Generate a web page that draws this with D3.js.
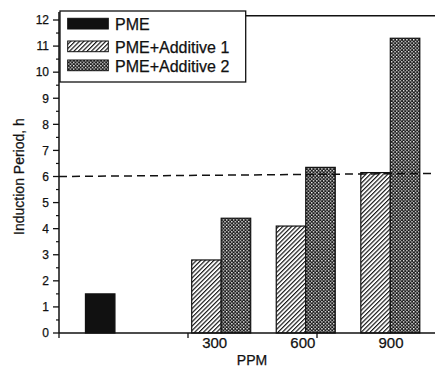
<!DOCTYPE html>
<html>
<head>
<meta charset="utf-8">
<script src="https://cdn.jsdelivr.net/npm/d3@7"></script>
<style>
  html, body { margin: 0; padding: 0; background: #fff; }
  svg { display: block; font-family: "Liberation Sans", Arial, sans-serif; }
  svg text { stroke: #111; stroke-width: 0.25px; }
</style>
</head>
<body>
<svg id="chart" width="435" height="369"></svg>
<script>
// ---- data ----
const seriesNames = ["PME", "PME+Additive 1", "PME+Additive 2"];
const pmeValue = [1.5];
const ppmCategories = [300, 600, 900];
const additive1Values = [2.8, 4.1, 6.15];
const additive2Values = [4.4, 6.35, 11.3];
const yTickValues = [0,1,2,3,4,5,6,7,8,9,10,11,12];
const thresholdLine = [6.0, 6.12]; // left end, right end (as read)

// ---- layout ----
const svg = d3.select("#chart");
const W = 435, H = 369;
const axisX = 59, axisY = 333;

const y = d3.scaleLinear().domain([0, 12]).range([axisY, 20]);
const xGroup = d3.scaleLinear().domain([300, 900]).range([221.2, 390.3]);
const xLabel = d3.scaleLinear().domain([300, 900]).range([214.7, 391]);
const xTicks = d3.scaleLinear().domain([0, 3]).range([axisX, 446]);
const barW = 29.5;
const pmeCenter = xGroup(300) - 121;

// ---- patterns ----
const defs = svg.append("defs");
const hatch = defs.append("pattern")
  .attr("id", "hatch").attr("patternUnits", "userSpaceOnUse")
  .attr("width", 3.1).attr("height", 3.1)
  .attr("patternTransform", "rotate(45)");
hatch.append("rect").attr("width", 3.1).attr("height", 3.1).attr("fill", "#fff");
hatch.append("line").attr("x1", 0.6).attr("y1", 0).attr("x2", 0.6).attr("y2", 3.1)
  .attr("stroke", "#111").attr("stroke-width", 1.15);

const dots = defs.append("pattern")
  .attr("id", "dots").attr("patternUnits", "userSpaceOnUse")
  .attr("width", 3.4).attr("height", 3.4);
dots.append("rect").attr("width", 3.4).attr("height", 3.4).attr("fill", "#1a1a1a");
dots.append("rect").attr("x", 0).attr("y", 0).attr("width", 1.3).attr("height", 1.3).attr("fill", "#fff");
dots.append("rect").attr("x", 1.7).attr("y", 1.7).attr("width", 1.3).attr("height", 1.3).attr("fill", "#fff");

const fills = ["#111", "url(#hatch)", "url(#dots)"];

// ---- top frame line ----
svg.append("line").attr("x1", 245).attr("x2", W).attr("y1", 15.7).attr("y2", 15.7)
  .attr("stroke", "#111").attr("stroke-width", 1.5);

// ---- bars ----
const g = svg.append("g");
g.selectAll(".pme").data(pmeValue).join("rect")
  .attr("x", pmeCenter - barW / 2).attr("width", barW)
  .attr("y", d => y(d)).attr("height", d => y(0) - y(d))
  .attr("fill", fills[0]).attr("stroke", "#111").attr("stroke-width", 1.2);

g.selectAll(".a1").data(additive1Values).join("rect")
  .attr("x", (d, i) => xGroup(ppmCategories[i]) - barW).attr("width", barW)
  .attr("y", d => y(d)).attr("height", d => y(0) - y(d))
  .attr("fill", fills[1]).attr("stroke", "#111").attr("stroke-width", 1.2);

g.selectAll(".a2").data(additive2Values).join("rect")
  .attr("x", (d, i) => xGroup(ppmCategories[i])).attr("width", barW)
  .attr("y", d => y(d)).attr("height", d => y(0) - y(d))
  .attr("fill", fills[2]).attr("stroke", "#111").attr("stroke-width", 1.2);

// ---- dashed threshold ----
svg.append("line")
  .attr("x1", axisX).attr("x2", W)
  .attr("y1", y(thresholdLine[0])).attr("y2", y(thresholdLine[1]))
  .attr("stroke", "#111").attr("stroke-width", 1.5)
  .attr("stroke-dasharray", "8,5");

// ---- y axis ----
const yAxis = svg.append("g").attr("transform", `translate(${axisX},0)`);
yAxis.append("line").attr("x1", 0).attr("x2", 0).attr("y1", axisY).attr("y2", 12)
  .attr("stroke", "#111").attr("stroke-width", 1.5);
const minor = d3.range(0.5, 12, 1);
yAxis.selectAll(".minor").data(minor).join("line")
  .attr("x1", -3).attr("x2", 0).attr("y1", d => y(d)).attr("y2", d => y(d))
  .attr("stroke", "#111").attr("stroke-width", 1.2);
yAxis.selectAll(".major").data(yTickValues).join("line")
  .attr("x1", -6).attr("x2", 0).attr("y1", d => y(d)).attr("y2", d => y(d))
  .attr("stroke", "#111").attr("stroke-width", 1.3);
yAxis.selectAll(".lab").data(yTickValues).join("text")
  .attr("x", -10).attr("y", d => y(d)).attr("dy", "0.36em")
  .attr("text-anchor", "end").attr("font-size", 12).attr("fill", "#111")
  .text(d => d);

svg.append("text")
  .attr("transform", `translate(24,${y(6)}) rotate(-90)`)
  .attr("text-anchor", "middle").attr("font-size", 14).attr("fill", "#111")
  .text("Induction Period, h");

// ---- x axis ----
svg.append("line").attr("x1", axisX).attr("x2", W).attr("y1", axisY).attr("y2", axisY)
  .attr("stroke", "#111").attr("stroke-width", 1.5);
svg.selectAll(".xt").data([0, 1, 2]).join("line")
  .attr("x1", d => xTicks(d)).attr("x2", d => xTicks(d))
  .attr("y1", axisY).attr("y2", axisY + 5)
  .attr("stroke", "#111").attr("stroke-width", 1.3);
svg.selectAll(".xl").data(ppmCategories).join("text")
  .attr("x", d => xLabel(d)).attr("y", 348)
  .attr("text-anchor", "middle").attr("font-size", 15).attr("fill", "#111")
  .text(d => d);
svg.append("text").attr("x", 252).attr("y", 365)
  .attr("text-anchor", "middle").attr("font-size", 14).attr("fill", "#111")
  .text("PPM");

// ---- legend ----
const leg = svg.append("g");
leg.append("rect").attr("x", 60).attr("y", 11).attr("width", 185.7).attr("height", 71)
  .attr("fill", "#fff").attr("stroke", "#111").attr("stroke-width", 1.3);
const rowsY = [18.3, 41, 60];
const legRows = leg.selectAll(".row").data(seriesNames).join("g")
  .attr("transform", (d, i) => `translate(0,${rowsY[i]})`);
legRows.append("rect").attr("x", 67.7).attr("y", 0).attr("width", 40.6).attr("height", 10.7)
  .attr("fill", (d, i) => fills[i]).attr("stroke", "#111").attr("stroke-width", 1);
legRows.append("text").attr("x", 115).attr("y", 11.5)
  .attr("font-size", 16).attr("fill", "#111")
  .text(d => d);
</script>
</body>
</html>
